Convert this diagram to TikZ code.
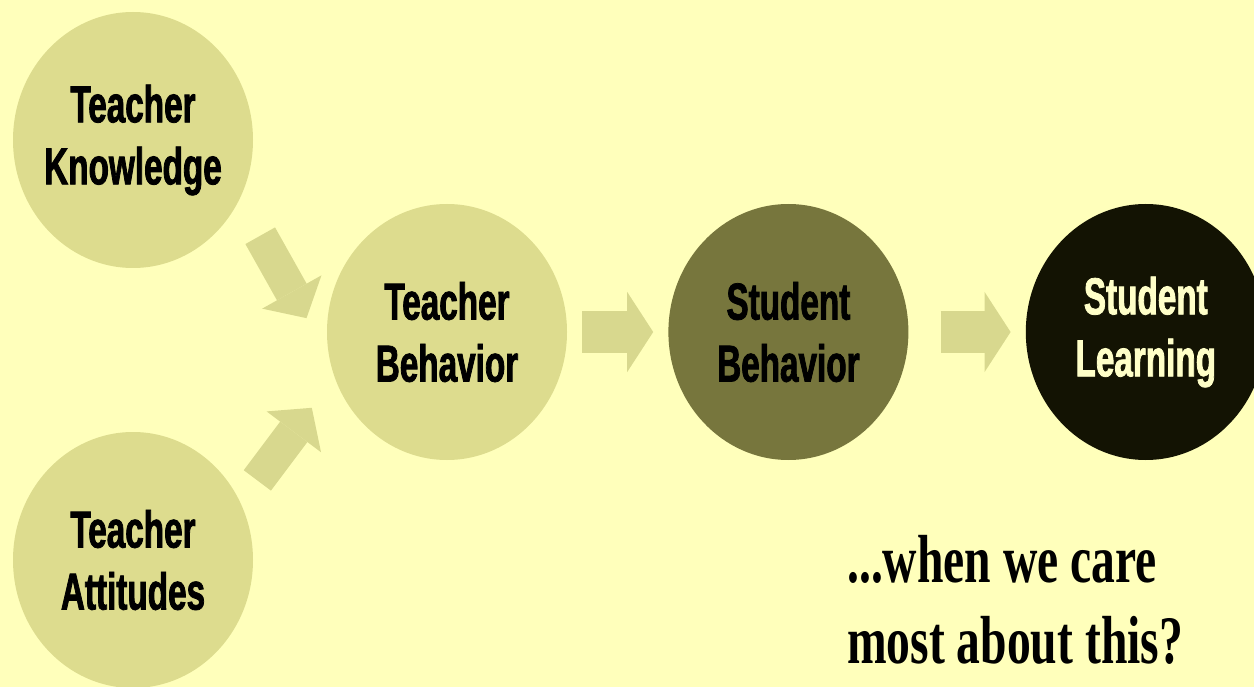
\documentclass[tikz,border=0pt]{standalone}
\usepackage{fontspec}
\newfontfamily\boxfont{Liberation Sans}[FakeStretch=0.64, FakeBold=1.5]
\newfontfamily\notefont{Liberation Serif}[FakeStretch=0.7]
\usetikzlibrary{positioning, shapes.geometric, arrows.meta}

\definecolor{bgyellow}{RGB}{255,255,187}
\definecolor{paletan}{RGB}{221,220,142}
\definecolor{arrowtan}{RGB}{216,216,142}
\definecolor{olivetan}{RGB}{119,118,61}
\definecolor{darkbrown}{RGB}{19,19,3}
\definecolor{lightcream}{RGB}{255,255,200}

\begin{document}
\begin{tikzpicture}[x=1pt, y=-1pt,
                paleround/.style={ellipse, fill=paletan, minimum width=240pt, minimum height=256pt, inner sep=-15pt, align=center, font=\boxfont\bfseries\fontsize{52pt}{62pt}\selectfont},
                oliveround/.style={paleround, fill=olivetan},
                darkround/.style={paleround, fill=darkbrown, text=lightcream},
                widearrow/.style={draw=arrowtan, line width=41pt, -{Triangle[line width=0pt, length=26pt, width=80pt]}},
                slantarrow/.style={draw=arrowtan, line width=34pt, -{Triangle[line width=0pt, length=30pt, width=68pt]}},
                ]
                \fill[bgyellow] (0,0) rectangle (1254,687);
                \useasboundingbox (0,0) rectangle (1254,687);
                %Nodes
                \node[paleround]        (tbehav)      at (447,332)          {Teacher\\Behavior};
                \node[oliveround]       (sbehav)      [right=101pt of tbehav] {Student\\Behavior};
                \node[darkround]        (slearn)      [right=117pt of sbehav] {Student\\Learning};
                \node[paleround]        (tknow)       at (133,140)          {Teacher\\Knowledge};
                \node[paleround]        (tattit)      at (133,560)          {Teacher\\Attitudes};
                \node[anchor=west, inner sep=0pt, align=left, font=\notefont\bfseries\fontsize{68pt}{81pt}\selectfont] (care) at (847,600) {...when we care\\most about this?};

                %Lines
                \draw[slantarrow, shorten <=42pt, shorten >=47pt] (tknow.-29) -- (tbehav.193);
                \draw[slantarrow, shorten <=28pt, shorten >=38pt] (tattit.28) -- (tbehav.202);
                \draw[widearrow, shorten <=15pt, shorten >=15pt] (tbehav.east) -- (sbehav.west);
                \draw[widearrow, shorten <=32pt, shorten >=15pt] (sbehav.east) -- (slearn.west);
\end{tikzpicture}
\end{document}
